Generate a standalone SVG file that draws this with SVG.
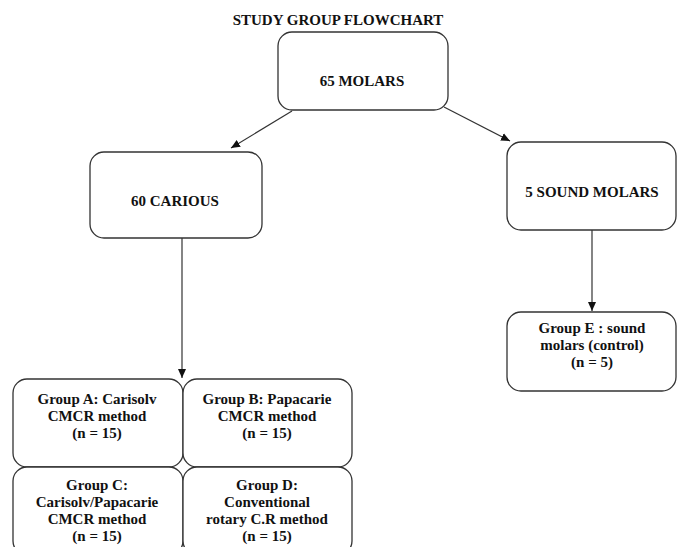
<svg xmlns="http://www.w3.org/2000/svg" width="677" height="547" viewBox="0 0 677 547">
<style>
.box{fill:#fff;stroke:#333;stroke-width:1.3}
text{font-family:"Liberation Serif","Times New Roman",serif;font-weight:bold;font-size:15px;fill:#111;text-anchor:middle}
.edge{stroke:#333;stroke-width:1.2;fill:none}
</style>
<defs>
<marker id="ah" markerWidth="10" markerHeight="10" refX="9" refY="5" orient="auto" markerUnits="userSpaceOnUse">
<path d="M0,1 L9,5 L0,9 z" fill="#111"/>
</marker>
</defs>
<rect width="677" height="547" fill="#fff"/>
<text x="338" y="25" font-size="14.5">STUDY GROUP FLOWCHART</text>
<g id="connectors">
<line class="edge" x1="292" y1="111" x2="231" y2="148" marker-end="url(#ah)"/>
<line class="edge" x1="444" y1="107" x2="510" y2="141" marker-end="url(#ah)"/>
<line class="edge" x1="182" y1="238" x2="182" y2="378" marker-end="url(#ah)"/>
<line class="edge" x1="592" y1="230" x2="592" y2="311" marker-end="url(#ah)"/>
</g>
<g id="n65">
<rect class="box" x="278" y="32" width="170" height="78" rx="14"/>
<text x="362" y="86">65 MOLARS</text>
</g>
<g id="n60">
<rect class="box" x="90" y="152" width="172" height="86" rx="14"/>
<text x="175" y="206">60 CARIOUS</text>
</g>
<g id="n5">
<rect class="box" x="507" y="142" width="169" height="88" rx="14"/>
<text x="592" y="197">5 SOUND MOLARS</text>
</g>
<g id="nE">
<rect class="box" x="507" y="312" width="169" height="79" rx="14"/>
<text x="592" y="333">Group E : sound</text>
<text x="592" y="350">molars (control)</text>
<text x="592" y="367">(n = 5)</text>
</g>
<g id="nA">
<rect class="box" x="13" y="379" width="170" height="88" rx="14"/>
<text x="97" y="404">Group A: Carisolv</text>
<text x="97" y="421">CMCR  method</text>
<text x="97" y="438">(n = 15)</text>
</g>
<g id="nB">
<rect class="box" x="183" y="379" width="169" height="88" rx="14"/>
<text x="267" y="404">Group B: Papacarie</text>
<text x="267" y="421">CMCR  method</text>
<text x="267" y="438">(n = 15)</text>
</g>
<g id="nC">
<rect class="box" x="13" y="467" width="170" height="88" rx="14"/>
<text x="97" y="490">Group C:</text>
<text x="97" y="507">Carisolv/Papacarie</text>
<text x="97" y="524">CMCR  method</text>
<text x="97" y="541">(n = 15)</text>
</g>
<g id="nD">
<rect class="box" x="183" y="467" width="169" height="88" rx="14"/>
<text x="267" y="490">Group D:</text>
<text x="267" y="507">Conventional</text>
<text x="267" y="524">rotary C.R method</text>
<text x="267" y="541">(n = 15)</text>
</g>
</svg>
